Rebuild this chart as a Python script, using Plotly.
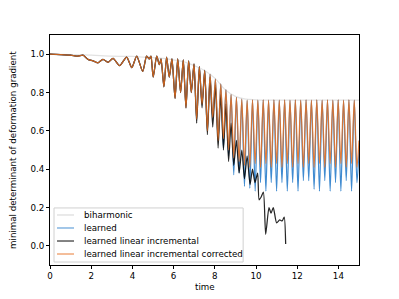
import plotly.graph_objects as go

# ---- data ----
# biharmonic (light gray, smooth upper curve)
bih_t = [0, 1, 2, 3, 4, 4.5, 5, 5.5, 6, 6.5, 7, 7.5, 8, 8.5, 9, 9.5, 10, 11, 12, 13, 14, 15]
bih_v = [1.0, 0.998, 0.995, 0.99, 0.988, 0.985, 0.982, 0.978, 0.97, 0.96, 0.94, 0.915, 0.875, 0.815, 0.78, 0.765, 0.762, 0.76, 0.76, 0.76, 0.76, 0.76]

# learned linear incremental corrected (orange)
cor_t = [0, 0.5, 1.0, 1.36, 1.6, 1.84, 2.09, 2.33, 2.57, 2.82, 3.06, 3.38, 3.72, 3.97, 4.21, 4.50, 4.69,
         4.82, 4.90, 5.01, 5.18, 5.31, 5.39, 5.53, 5.66, 5.79, 5.92, 6.07, 6.20, 6.34, 6.47, 6.60, 6.73,
         6.86, 6.99, 7.12, 7.25, 7.38, 7.51, 7.64, 7.77, 7.90, 8.03, 8.16, 8.29, 8.42, 8.54, 8.67, 8.79,
         8.92, 9.05, 9.18, 9.31, 9.44, 9.57, 9.70, 9.83, 9.96, 10.09, 10.22, 10.35, 10.48, 10.61, 10.74,
         10.87, 11.00, 11.13, 11.26, 11.39, 11.52, 11.65, 11.78, 11.91, 12.04, 12.17, 12.30, 12.43, 12.56,
         12.69, 12.82, 12.95, 13.08, 13.21, 13.34, 13.47, 13.60, 13.73, 13.86, 13.99, 14.12, 14.25, 14.38,
         14.51, 14.64, 14.77, 14.90, 15.0]
cor_v = [1.0, 0.998, 0.995, 0.99, 0.995, 0.973, 0.965, 0.955, 0.973, 0.957, 0.978, 0.94, 0.985, 0.93, 0.99, 0.91, 0.99,
         0.975, 0.99, 0.88, 0.99, 0.945, 0.975, 0.83, 0.985, 0.88, 0.975, 0.77, 0.975, 0.80, 0.97, 0.72, 0.965,
         0.80, 0.95, 0.66, 0.935, 0.74, 0.915, 0.60, 0.895, 0.67, 0.87, 0.55, 0.845, 0.56, 0.815, 0.50, 0.79,
         0.46, 0.775, 0.44, 0.765, 0.42, 0.76, 0.41, 0.762, 0.43, 0.76, 0.41, 0.762, 0.43, 0.76, 0.41,
         0.762, 0.43, 0.76, 0.41, 0.762, 0.43, 0.76, 0.41, 0.762, 0.43, 0.76, 0.41, 0.762, 0.43,
         0.76, 0.41, 0.762, 0.43, 0.76, 0.41, 0.762, 0.43, 0.76, 0.41, 0.762, 0.43, 0.76, 0.41,
         0.762, 0.43, 0.76, 0.41, 0.55]

# learned (blue)
lea_t = cor_t
lea_v = [1.0, 0.998, 0.995, 0.99, 0.995, 0.973, 0.965, 0.955, 0.973, 0.957, 0.978, 0.94, 0.985, 0.93, 0.99, 0.91, 0.99,
         0.975, 0.99, 0.88, 0.99, 0.945, 0.975, 0.83, 0.985, 0.88, 0.975, 0.77, 0.975, 0.80, 0.97, 0.72, 0.965,
         0.80, 0.95, 0.66, 0.935, 0.74, 0.915, 0.60, 0.895, 0.67, 0.87, 0.55, 0.845, 0.51, 0.815, 0.47, 0.79,
         0.37, 0.775, 0.38, 0.765, 0.31, 0.76, 0.30, 0.762, 0.285, 0.76, 0.33, 0.762, 0.285, 0.76, 0.33,
         0.762, 0.285, 0.76, 0.33, 0.762, 0.285, 0.76, 0.33, 0.762, 0.285, 0.76, 0.34, 0.762, 0.34,
         0.76, 0.295, 0.762, 0.285, 0.76, 0.34, 0.762, 0.285, 0.76, 0.33, 0.762, 0.285, 0.76, 0.34,
         0.762, 0.285, 0.76, 0.33, 0.50]

# learned linear incremental (black)
inc_t = [0, 0.5, 1.0, 1.36, 1.6, 1.84, 2.09, 2.33, 2.57, 2.82, 3.06, 3.38, 3.72, 3.97, 4.21, 4.50, 4.69,
         4.82, 4.90, 5.01, 5.18, 5.31, 5.39, 5.53, 5.66, 5.79, 5.92, 6.07, 6.20, 6.34, 6.47, 6.60, 6.73,
         6.86, 6.99, 7.12, 7.25, 7.38, 7.51, 7.64, 7.77, 7.90, 8.03, 8.16, 8.29, 8.42, 8.54, 8.67, 8.79,
         8.92, 9.05, 9.18, 9.31, 9.44, 9.57, 9.71, 9.83, 9.95, 10.08, 10.15, 10.25, 10.36, 10.47, 10.63,
         10.73, 10.84, 11.0, 11.15, 11.27, 11.37, 11.44]
inc_v = [1.0, 0.998, 0.995, 0.99, 0.995, 0.973, 0.965, 0.955, 0.973, 0.957, 0.978, 0.94, 0.985, 0.93, 0.99, 0.91, 0.99,
         0.975, 0.99, 0.88, 0.99, 0.945, 0.975, 0.83, 0.985, 0.88, 0.975, 0.77, 0.975, 0.80, 0.97, 0.72, 0.965,
         0.80, 0.95, 0.64, 0.935, 0.72, 0.915, 0.58, 0.88, 0.62, 0.84, 0.51, 0.79, 0.50, 0.74, 0.44, 0.64,
         0.42, 0.55, 0.38, 0.50, 0.35, 0.47, 0.32, 0.40, 0.33, 0.38, 0.24, 0.255, 0.28, 0.06, 0.20,
         0.17, 0.20, 0.12, 0.135, 0.13, 0.15, 0.01]

x_ticks = [0, 2, 4, 6, 8, 10, 12, 14]
y_ticks = [0.0, 0.2, 0.4, 0.6, 0.8, 1.0]

series_names = ["biharmonic", "learned", "learned linear incremental", "learned linear incremental corrected"]
series_colors = ["rgba(190,190,190,0.45)", "rgba(31,119,200,0.85)", "rgba(0,0,0,0.85)", "rgba(230,110,30,0.85)"]
legend_colors = ["rgba(190,190,190,0.45)", "rgba(31,119,200,0.55)", "rgba(0,0,0,0.65)", "rgba(230,110,30,0.6)"]

FONT = "DejaVu Sans"
FS = 8.7

fig = go.Figure()
data = [(bih_t, bih_v), (lea_t, lea_v), (inc_t, inc_v), (cor_t, cor_v)]
smooth = [1.0, 0.8, 0.6, 0.8]
for (tt, vv), nm, col, sm in zip(data, series_names, series_colors, smooth):
    fig.add_trace(go.Scatter(x=tt, y=vv, mode="lines", name=nm, showlegend=False,
                             line=dict(color=col, width=1.25, shape="spline", smoothing=sm)))

axis_common = dict(showline=True, linecolor="black", linewidth=1, mirror=True, ticks="outside",
                   ticklen=3, tickwidth=1, tickcolor="black", showgrid=False, zeroline=False,
                   automargin=False, tickfont=dict(family=FONT, size=FS, color="black"))
fig.update_xaxes(range=[0, 15], tickvals=x_ticks, **axis_common)
fig.update_yaxes(range=[-0.1, 1.1], tickvals=y_ticks, tickformat=".1f", **axis_common)

# axis titles as annotations for exact placement (plot area: 309 x 230 px)
PW, PH = 309.0, 230.0
fig.add_annotation(xref="paper", yref="paper", x=0.5, y=-(287 - 265) / PH, text="time", showarrow=False,
                   xanchor="center", yanchor="middle", font=dict(family=FONT, size=FS, color="black"))
fig.add_annotation(xref="paper", yref="paper", x=-(50 - 13) / PW, y=(265 - 150) / PH,
                   text="minimal determinant of deformation gradient", showarrow=False, textangle=-90,
                   xanchor="center", yanchor="middle", font=dict(family=FONT, size=FS, color="black"))

# manual matplotlib-style legend (compact rows)
X0, X1, Y0, Y1 = 0.013, 0.625, 0.013, 0.248
fig.add_shape(type="rect", xref="paper", yref="paper", x0=X0, x1=X1, y0=Y0, y1=Y1,
              line=dict(color="#d0d0d0", width=1), fillcolor="rgba(255,255,255,0.8)", layer="above")
row_y = [0.2174, 0.1609, 0.1043, 0.0478]
for nm, col, ry in zip(series_names, legend_colors, row_y):
    fig.add_shape(type="line", xref="paper", yref="paper", x0=0.0227, x1=0.0777, y0=ry, y1=ry,
                  line=dict(color=col, width=1.5), layer="above")
    fig.add_annotation(xref="paper", yref="paper", x=0.1026, y=ry, text=nm, showarrow=False,
                       xanchor="left", yanchor="middle", font=dict(family=FONT, size=FS, color="black"))

# page body has an 8px default margin, so the figure is shrunk and margins shifted to compensate
fig.update_layout(
    width=391, height=291,
    margin=dict(l=42, r=40, t=27, b=34),
    paper_bgcolor="white", plot_bgcolor="white",
    font=dict(family=FONT, size=FS, color="black"),
    showlegend=False,
)

fig.write_html("out.html")
